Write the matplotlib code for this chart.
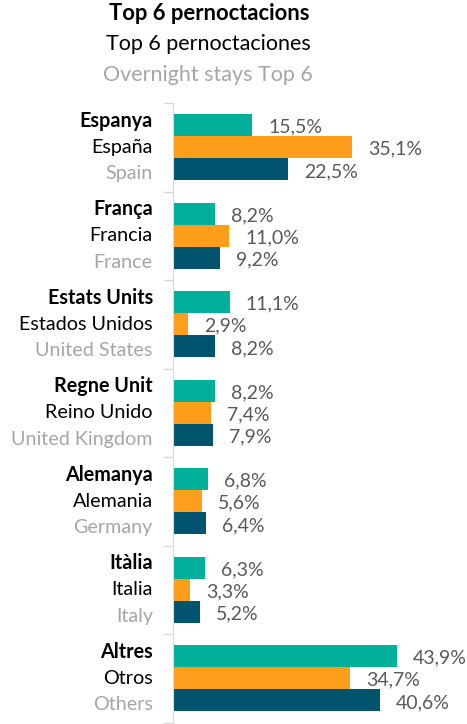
import numpy as np
import matplotlib
matplotlib.use('Agg')
import matplotlib.pyplot as plt
from matplotlib.ticker import FixedLocator

plt.rcParams['font.family'] = ['Lato', 'DejaVu Sans']

# Data
cat_ca = ['Espanya', 'França', 'Estats Units', 'Regne Unit', 'Alemanya', 'Itàlia', 'Altres']
cat_es = ['España', 'Francia', 'Estados Unidos', 'Reino Unido', 'Alemania', 'Italia', 'Otros']
cat_en = ['Spain', 'France', 'United States', 'United Kingdom', 'Germany', 'Italy', 'Others']
serie_teal = [15.5, 8.2, 11.1, 8.2, 6.8, 6.3, 43.9]
serie_orange = [35.1, 11.0, 2.9, 7.4, 5.6, 3.3, 34.7]
serie_blue = [22.5, 9.2, 8.2, 7.9, 6.4, 5.2, 40.6]

colors = ['#00B09B', '#FF9E1B', '#00546E']
label_col = '#595959'
grey_txt = '#A6A6A6'

W, H = 467, 724
fig = plt.figure(figsize=(W/100, H/100), dpi=100)
ax = fig.add_axes([173/W, 1.5/H, 1 - 173/W, 619.5/H])

y = np.arange(len(cat_ca))
h = 0.25
for k, vals in enumerate([serie_teal, serie_orange, serie_blue]):
    pos = y + (k - 1)*h
    ax.barh(pos, vals, height=h, color=colors[k])
    for p, v in zip(pos, vals):
        ax.annotate(('%.1f%%' % v).replace('.', ','), xy=(v, p), xytext=(11.5, -1.5),
                    textcoords='offset points', ha='left', va='center',
                    fontsize=14, color=label_col)

# three-language category labels
for i in range(len(cat_ca)):
    for off, txt, col, wt in [(-0.3, cat_ca[i], 'black', 'bold'),
                              (0.0, cat_es[i], 'black', 'normal'),
                              (0.3, cat_en[i], grey_txt, 'normal')]:
        ax.annotate(txt, xy=(0, i + off), xycoords=('axes fraction', 'data'),
                    xytext=(-14.5, 0), textcoords='offset points',
                    ha='right', va='center', fontsize=14.2, color=col, fontweight=wt)

ax.set_xlim(0, (W - 173)/5.1)
ax.set_ylim(6.5, -0.5)
ax.set_xticks([])
ax.set_yticks([])
ax.yaxis.set_major_locator(FixedLocator(np.arange(-0.5, 7, 1)))
ax.set_yticklabels([])
ax.tick_params(axis='y', length=7, color='#D9D9D9', width=1)
for s in ['top', 'right', 'bottom']:
    ax.spines[s].set_visible(False)
ax.spines['left'].set_color('#D9D9D9')

fig.text(209/W, 1 - 14/H, 'Top 6 pernoctacions', ha='center', va='center',
         fontsize=15.8, fontweight='bold', color='black')
fig.text(208/W, 1 - 44/H, 'Top 6 pernoctaciones', ha='center', va='center',
         fontsize=15.5, color='black')
fig.text(208/W, 1 - 75/H, 'Overnight stays Top 6', ha='center', va='center',
         fontsize=15.5, color=grey_txt)

fig.savefig('out.png', dpi=100)
